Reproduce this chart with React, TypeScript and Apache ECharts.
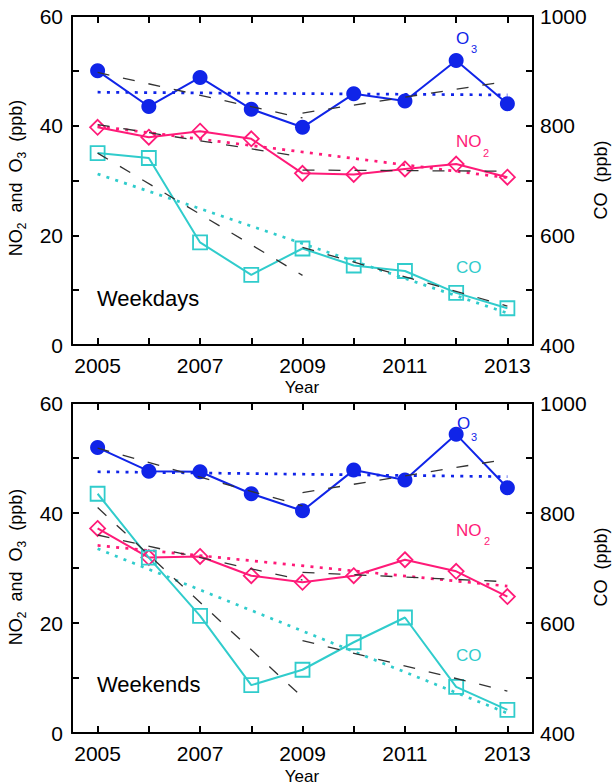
import React, { useEffect, useRef } from 'react';
import * as echarts from 'echarts';

const years = [2005, 2006, 2007, 2008, 2009, 2010, 2011, 2012, 2013];
const xLabelYears = [2005, 2007, 2009, 2011, 2013];
const leftTicks = [0, 10, 20, 30, 40, 50, 60];
const leftLabels = [0, 20, 40, 60];
const rightTicks = [400, 500, 600, 700, 800, 900, 1000];
const rightLabels = [400, 600, 800, 1000];

// Weekdays (O3, NO2 in ppb on left axis; CO in ppb on right axis)
const wdO3 = [50.0, 43.5, 48.8, 43.0, 39.7, 45.8, 44.5, 51.9, 44.0];
const wdNO2 = [39.7, 37.9, 39.0, 37.6, 31.3, 31.1, 32.1, 33.0, 30.6];
const wdCO = [750, 741, 587, 528, 576, 545, 535, 495, 467];
// linear fits: whole period (2005-2013), early (2005-2009), late (2009-2013)
const wdO3Fit = [46.1, 45.6];
const wdNO2Fit = [39.9, 30.5];
const wdCOFit = [712, 458];
const wdO3Early = [49.7, 41.4];
const wdO3Late = [42.3, 48.1];
const wdNO2Early = [40.2, 34.3];
const wdNO2Late = [31.9, 31.7];
const wdCOEarly = [750, 527];
const wdCOLate = [578, 471];

// Weekends
const weO3 = [51.9, 47.6, 47.5, 43.5, 40.4, 47.8, 46.0, 54.3, 44.6];
const weNO2 = [37.2, 31.9, 32.1, 28.6, 27.4, 28.6, 31.5, 29.4, 24.8];
const weCO = [835, 719, 613, 487, 515, 565, 610, 484, 442];
const weO3Fit = [47.5, 46.6];
const weNO2Fit = [34.1, 26.7];
const weCOFit = [735, 436];
const weO3Early = [51.8, 41.3];
const weO3Late = [43.7, 49.8];
const weNO2Early = [36.0, 27.8];
const weNO2Late = [29.2, 27.5];
const weCOEarly = [810, 465];
const weCOLate = [568, 476];

const FONT = '"Liberation Sans", Arial, Helvetica, sans-serif';
const BLUE = '#1024e8';
const PINK = '#ff1a78';
const CYAN = '#30cccc';
const DARK = '#333333';

function buildSeries(g: number, d: any) {
  const xi = 2 * g;
  const yl = 2 * g;
  const yr = 2 * g + 1;
  const pts = (arr: number[]) => years.map((y, i) => [y, arr[i]]);
  const series: any[] = [];
  const dotted = (v: number[], color: string, yAxisIndex: number) => ({
    type: 'line',
    xAxisIndex: xi,
    yAxisIndex,
    data: [[2005, v[0]], [2013, v[1]]],
    symbol: 'none',
    silent: true,
    z: 2,
    lineStyle: { color, width: 2.7, type: [3, 6.3] },
  });
  const dashed = (v: number[], y0: number, y1: number, yAxisIndex: number) => ({
    type: 'line',
    xAxisIndex: xi,
    yAxisIndex,
    data: [[y0, v[0]], [y1, v[1]]],
    symbol: 'none',
    silent: true,
    z: 5,
    lineStyle: { color: DARK, width: 1.3, type: [12, 14] },
  });
  series.push(dotted(d.o3Fit, BLUE, yl));
  series.push(dotted(d.no2Fit, PINK, yl));
  series.push(dotted(d.coFit, CYAN, yr));
  series.push({
    type: 'line', xAxisIndex: xi, yAxisIndex: yl, data: pts(d.o3), z: 3,
    symbol: 'circle', symbolSize: 15,
    itemStyle: { color: BLUE },
    lineStyle: { color: BLUE, width: 2 },
  });
  series.push({
    type: 'line', xAxisIndex: xi, yAxisIndex: yl, data: pts(d.no2), z: 3,
    symbol: 'diamond', symbolSize: 15,
    itemStyle: { color: 'rgba(0,0,0,0)', borderColor: PINK, borderWidth: 1.8 },
    lineStyle: { color: PINK, width: 2 },
  });
  series.push({
    type: 'line', xAxisIndex: xi, yAxisIndex: yr, data: pts(d.co), z: 3,
    symbol: 'rect', symbolSize: 14,
    itemStyle: { color: 'rgba(0,0,0,0)', borderColor: CYAN, borderWidth: 1.8 },
    lineStyle: { color: CYAN, width: 2 },
  });
  series.push(dashed(d.o3Early, 2005, 2009, yl));
  series.push(dashed(d.o3Late, 2009, 2013, yl));
  series.push(dashed(d.no2Early, 2005, 2009, yl));
  series.push(dashed(d.no2Late, 2009, 2013, yl));
  series.push(dashed(d.coEarly, 2005, 2009, yr));
  series.push(dashed(d.coLate, 2009, 2013, yr));
  return series;
}

const axisLine = { show: true, onZero: false, lineStyle: { color: '#000', width: 2 } };
const labelStyle = { color: '#000', fontSize: 21, fontFamily: FONT, formatter: (v: number) => String(v) };

function xAxes(g: number) {
  return [
    {
      type: 'value', gridIndex: g, position: 'bottom', min: 2004.5, max: 2013.5,
      axisLine, splitLine: { show: false },
      axisTick: { show: true, inside: true, length: 7, lineStyle: { color: '#000', width: 2 }, customValues: years },
      axisLabel: { ...labelStyle, margin: 10, customValues: xLabelYears },
    },
    {
      type: 'value', gridIndex: g, position: 'top', min: 2004.5, max: 2013.5,
      axisLine, splitLine: { show: false },
      axisTick: { show: true, inside: true, length: 7, lineStyle: { color: '#000', width: 2 }, customValues: years },
      axisLabel: { show: false },
    },
  ];
}

function yAxes(g: number) {
  return [
    {
      type: 'value', gridIndex: g, position: 'left', min: 0, max: 60,
      axisLine, splitLine: { show: false },
      axisTick: { show: true, inside: true, length: 7, lineStyle: { color: '#000', width: 2 }, customValues: leftTicks },
      axisLabel: { ...labelStyle, margin: 9, customValues: leftLabels },
    },
    {
      type: 'value', gridIndex: g, position: 'right', min: 400, max: 1000,
      axisLine, splitLine: { show: false },
      axisTick: { show: true, inside: true, length: 7, lineStyle: { color: '#000', width: 2 }, customValues: rightTicks },
      axisLabel: { ...labelStyle, margin: 7, customValues: rightLabels },
    },
  ];
}

function txt(x: number, y: number, text: string, size: number, color: string, align = 'left') {
  return {
    type: 'text', x, y, z: 100, silent: true,
    style: { text, fill: color, fontSize: size, fontFamily: FONT, align, verticalAlign: 'middle' },
  };
}

function leftTitle(y: number) {
  return {
    type: 'text', x: 16, y, rotation: Math.PI / 2, z: 100, silent: true,
    style: {
      text: '{a|NO}{s|2}{a|  and  O}{s|3}{a|  (ppb)}',
      fill: '#000', fontFamily: FONT, fontSize: 18, align: 'center', verticalAlign: 'middle',
      rich: {
        a: { fontSize: 18, fontFamily: FONT, fill: '#000', lineHeight: 24, verticalAlign: 'middle' },
        s: { fontSize: 12, fontFamily: FONT, fill: '#000', lineHeight: 12, verticalAlign: 'bottom' },
      },
    },
  };
}

function rightTitle(y: number) {
  return {
    type: 'text', x: 601, y, rotation: Math.PI / 2, z: 100, silent: true,
    style: { text: 'CO  (ppb)', fill: '#000', fontFamily: FONT, fontSize: 18, align: 'center', verticalAlign: 'middle' },
  };
}

const weekdaysData = {
  o3: wdO3, no2: wdNO2, co: wdCO,
  o3Fit: wdO3Fit, no2Fit: wdNO2Fit, coFit: wdCOFit,
  o3Early: wdO3Early, o3Late: wdO3Late, no2Early: wdNO2Early, no2Late: wdNO2Late,
  coEarly: wdCOEarly, coLate: wdCOLate,
};
const weekendsData = {
  o3: weO3, no2: weNO2, co: weCO,
  o3Fit: weO3Fit, no2Fit: weNO2Fit, coFit: weCOFit,
  o3Early: weO3Early, o3Late: weO3Late, no2Early: weNO2Early, no2Late: weNO2Late,
  coEarly: weCOEarly, coLate: weCOLate,
};

const option: any = {
  animation: false,
  backgroundColor: '#ffffff',
  grid: [
    { left: 72, top: 16, width: 461, height: 329 },
    { left: 72, top: 403, width: 461, height: 330 },
  ],
  xAxis: [...xAxes(0), ...xAxes(1)],
  yAxis: [...yAxes(0), ...yAxes(1)],
  series: [...buildSeries(0, weekdaysData), ...buildSeries(1, weekendsData)],
  graphic: [
    // top panel labels
    txt(456, 38, 'O', 17, BLUE),
    txt(471, 49, '3', 11, BLUE),
    txt(456, 141, 'NO', 17, PINK),
    txt(483, 153, '2', 11, PINK),
    txt(456, 267, 'CO', 17, CYAN),
    txt(97, 298, 'Weekdays', 22, '#000'),
    // bottom panel labels
    txt(457, 423, 'O', 17, BLUE),
    txt(471, 437, '3', 11, BLUE),
    txt(456, 530, 'NO', 17, PINK),
    txt(484, 541, '2', 11, PINK),
    txt(456, 655, 'CO', 17, CYAN),
    txt(97, 684, 'Weekends', 22, '#000'),
    // axis titles
    leftTitle(178),
    rightTitle(180),
    leftTitle(567),
    rightTitle(567),
    txt(302, 387, 'Year', 17, '#000', 'center'),
    txt(302, 776, 'Year', 17, '#000', 'center'),
  ],
};

export default function App() {
  const ref = useRef<HTMLDivElement>(null);
  useEffect(() => {
    const chart = echarts.init(ref.current!, null, { renderer: 'svg' });
    chart.setOption(option);
    return () => chart.dispose();
  }, []);
  return (
    <div
      ref={ref}
      style={{ position: 'absolute', left: 0, top: 0, width: 614, height: 784, background: '#fff' }}
    />
  );
}
